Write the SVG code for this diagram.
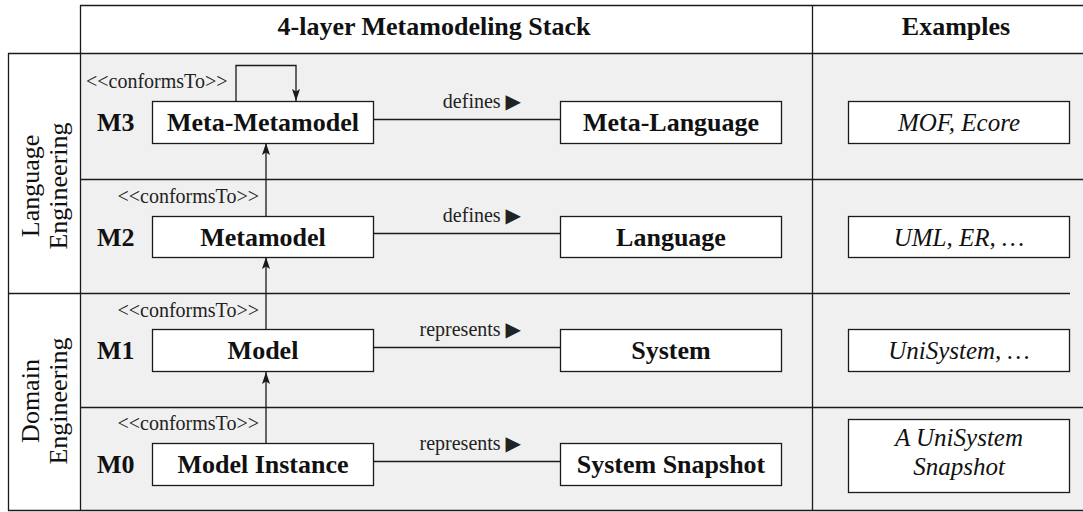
<svg xmlns="http://www.w3.org/2000/svg" width="1083" height="512" viewBox="0 0 1083 512">
<style>
.grid{stroke:#1a1a1a;stroke-width:1.3;fill:none}
.box{fill:#fff;stroke:#1a1a1a;stroke-width:1.3}
.conn{stroke:#1a1a1a;stroke-width:1.3;fill:none}
.b{font-family:'Liberation Serif',serif;font-weight:bold;font-size:26px;fill:#111}
.lbl{font-family:'Liberation Serif','DejaVu Sans',serif;font-size:20px;fill:#222}
.ex{font-family:'Liberation Serif',serif;font-style:italic;font-size:25px;fill:#111}
.side{font-family:'Liberation Serif',serif;font-size:26px;fill:#111}
.mid{text-anchor:middle}
.end{text-anchor:end}
</style>
<defs>
<marker id="arr" viewBox="0 0 12 8" refX="12" refY="4" markerWidth="12" markerHeight="8" markerUnits="userSpaceOnUse" orient="auto">
<path d="M0,0 L12,4 L0,8 L2.5,4 Z" fill="#1a1a1a"/>
</marker>
</defs>

<g id="table">
<rect x="0" y="0" width="1083" height="512" fill="#fff"/>
<rect x="80" y="53" width="1003" height="457" fill="#f0f0f0"/>
<path class="grid" d="M80,5.5 H1083 M8,53.5 H1083 M80,179.5 H1083 M8,293.5 H1070 M80,407.5 H1083 M8,510.5 H1083 M8.5,53 V511 M80.5,5 V511 M812.5,5 V511"/>
<text class="b mid" x="434" y="35">4-layer Metamodeling Stack</text>
<text class="b mid" x="956" y="35">Examples</text>
<text class="side mid" transform="translate(39,186) rotate(-90)">Language</text>
<text class="side mid" transform="translate(67,186) rotate(-90)">Engineering</text>
<text class="side mid" transform="translate(39,401) rotate(-90)">Domain</text>
<text class="side mid" transform="translate(67,401) rotate(-90)">Engineering</text>
<text class="b" x="97" y="130.5">M3</text>
<text class="b" x="97" y="245.5">M2</text>
<text class="b" x="97" y="358.5">M1</text>
<text class="b" x="97" y="472.5">M0</text>
</g>

<g id="connectors">
<path class="conn" d="M236,101 V65.5 H296 V101" marker-end="url(#arr)"/>
<line class="conn" x1="266" y1="216" x2="266" y2="143" marker-end="url(#arr)"/>
<line class="conn" x1="266" y1="329" x2="266" y2="257" marker-end="url(#arr)"/>
<line class="conn" x1="266" y1="443" x2="266" y2="372" marker-end="url(#arr)"/>
<line class="conn" x1="374" y1="119.5" x2="560" y2="119.5"/>
<line class="conn" x1="374" y1="233.5" x2="560" y2="233.5"/>
<line class="conn" x1="374" y1="347.5" x2="560" y2="347.5"/>
<line class="conn" x1="374" y1="461.5" x2="560" y2="461.5"/>
<text class="lbl" x="86" y="88">&lt;&lt;conformsTo&gt;&gt;</text>
<text class="lbl end" x="259" y="203">&lt;&lt;conformsTo&gt;&gt;</text>
<text class="lbl end" x="259" y="317">&lt;&lt;conformsTo&gt;&gt;</text>
<text class="lbl end" x="259" y="430">&lt;&lt;conformsTo&gt;&gt;</text>
<text class="lbl end" x="521" y="108">defines ▶</text>
<text class="lbl end" x="521" y="222">defines ▶</text>
<text class="lbl end" x="521" y="336">represents ▶</text>
<text class="lbl end" x="521" y="450">represents ▶</text>
</g>

<g id="meta-metamodel"><rect class="box" x="152.5" y="101.5" width="221" height="42"/><text class="b mid" x="263" y="130.5">Meta-Metamodel</text></g>
<g id="meta-language"><rect class="box" x="560.5" y="101.5" width="221" height="42"/><text class="b mid" x="671" y="130.5">Meta-Language</text></g>
<g id="ex-m3"><rect class="box" x="848.5" y="101.5" width="221" height="42"/><text class="ex mid" x="959" y="130.5">MOF, Ecore</text></g>

<g id="metamodel"><rect class="box" x="152.5" y="216.5" width="221" height="41"/><text class="b mid" x="263" y="245.5">Metamodel</text></g>
<g id="language"><rect class="box" x="560.5" y="216.5" width="221" height="41"/><text class="b mid" x="671" y="245.5">Language</text></g>
<g id="ex-m2"><rect class="box" x="848.5" y="216.5" width="221" height="41"/><text class="ex mid" x="959" y="245.5">UML, ER, …</text></g>

<g id="model"><rect class="box" x="152.5" y="329.5" width="221" height="42"/><text class="b mid" x="263" y="358.5">Model</text></g>
<g id="system"><rect class="box" x="560.5" y="329.5" width="221" height="42"/><text class="b mid" x="671" y="358.5">System</text></g>
<g id="ex-m1"><rect class="box" x="848.5" y="329.5" width="221" height="42"/><text class="ex mid" x="959" y="358.5">UniSystem, …</text></g>

<g id="model-instance"><rect class="box" x="152.5" y="443.5" width="221" height="42"/><text class="b mid" x="263" y="472.5">Model Instance</text></g>
<g id="system-snapshot"><rect class="box" x="560.5" y="443.5" width="221" height="42"/><text class="b mid" x="671" y="472.5">System Snapshot</text></g>
<g id="ex-m0"><rect class="box" x="848.5" y="419.5" width="221" height="73"/><text class="ex mid" x="959" y="446">A UniSystem</text><text class="ex mid" x="959" y="475">Snapshot</text></g>
</svg>
